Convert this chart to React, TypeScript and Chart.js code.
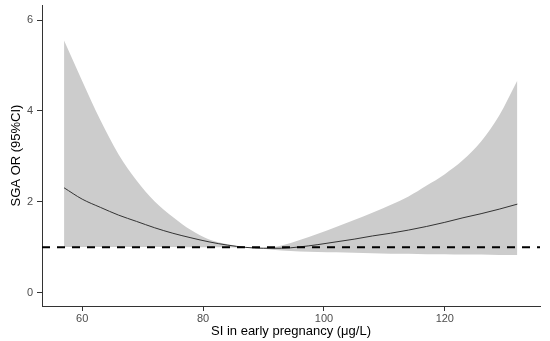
import React, { useEffect, useRef } from "react";
import { Chart, registerables } from "chart.js";

Chart.register(...registerables);

// Exposure values (SI in early pregnancy, µg/L)
const siValues = [57, 60, 63, 66, 69, 72, 75, 78, 81, 84, 87, 90, 93, 96, 99, 102, 105, 108, 111, 114, 117, 120, 123, 126, 129, 132];
// Odds ratio estimate
const orEstimate = [2.31, 2.06, 1.88, 1.71, 1.57, 1.43, 1.31, 1.21, 1.12, 1.05, 1.0, 0.98, 0.98, 1.01, 1.06, 1.12, 1.18, 1.25, 1.31, 1.38, 1.46, 1.55, 1.65, 1.74, 1.84, 1.95];
// 95% CI upper bound
const ciUpper = [5.55, 4.66, 3.8, 3.05, 2.47, 2.01, 1.67, 1.38, 1.17, 1.07, 1.01, 0.99, 1.04, 1.16, 1.3, 1.45, 1.6, 1.76, 1.93, 2.12, 2.36, 2.61, 2.92, 3.33, 3.9, 4.67];
// 95% CI lower bound
const ciLower = [1.01, 1.01, 1.01, 1.01, 1.01, 1.01, 1.01, 1.0, 1.0, 1.0, 0.99, 0.97, 0.93, 0.91, 0.9, 0.89, 0.88, 0.87, 0.86, 0.86, 0.85, 0.85, 0.84, 0.84, 0.83, 0.83];
// Reference line (OR = 1)
const referenceOR = 1;

const xTickValues = [60, 80, 100, 120];
const yTickValues = [0, 2, 4, 6];
const xRange = [53.35, 135.75];
const yRange = [-0.29, 6.33];

const xTitle = "SI in early pregnancy (μg/L)";
const yTitle = "SGA OR (95%CI)";

export default function App() {
  const canvasRef = useRef<HTMLCanvasElement | null>(null);

  useEffect(() => {
    if (!canvasRef.current) return;
    const pts = (ys: number[]) => siValues.map((x, i) => ({ x, y: ys[i] }));
    const font = "'Liberation Sans', Arial, sans-serif";
    const chart = new Chart(canvasRef.current, {
      type: "line",
      data: {
        datasets: [
          {
            label: "upper",
            data: pts(ciUpper),
            borderWidth: 0,
            borderColor: "rgba(0,0,0,0)",
            backgroundColor: "#CCCCCC",
            pointRadius: 0,
            fill: "+1",
            cubicInterpolationMode: "monotone",
            order: 3,
          },
          {
            label: "lower",
            data: pts(ciLower),
            borderWidth: 0,
            borderColor: "rgba(0,0,0,0)",
            backgroundColor: "#CCCCCC",
            pointRadius: 0,
            fill: false,
            cubicInterpolationMode: "monotone",
            order: 3,
          },
          {
            label: "OR",
            data: pts(orEstimate),
            borderWidth: 1,
            borderColor: "#333333",
            pointRadius: 0,
            fill: false,
            cubicInterpolationMode: "monotone",
            order: 2,
          },
          {
            label: "ref",
            data: [
              { x: xRange[0], y: referenceOR },
              { x: xRange[1], y: referenceOR },
            ],
            borderWidth: 2,
            borderColor: "#000000",
            borderDash: [8, 7],
            pointRadius: 0,
            fill: false,
            order: 1,
          },
        ],
      },
      options: {
        animation: false,
        responsive: true,
        maintainAspectRatio: false,
        layout: { padding: { top: 5, right: 10, left: 0, bottom: 0 } },
        plugins: { legend: { display: false }, tooltip: { enabled: false } },
        scales: {
          x: {
            type: "linear",
            min: xRange[0],
            max: xRange[1],
            afterBuildTicks: (s: any) => {
              s.ticks = xTickValues.map((v) => ({ value: v }));
            },
            afterFit: (s: any) => {
              s.height = 35;
              s.paddingLeft = 0;
              s.paddingRight = 0;
            },
            grid: { drawOnChartArea: false, drawTicks: true, tickLength: 5, color: "#333333", lineWidth: 1 },
            border: { display: true, color: "#333333", width: 1 },
            ticks: { color: "#4D4D4D", font: { family: font, size: 11 }, padding: 1, maxRotation: 0 },
            title: { display: true, text: xTitle, color: "#000000", font: { family: font, size: 13 }, padding: { top: 0, bottom: 1.5 } },
          },
          y: {
            type: "linear",
            min: yRange[0],
            max: yRange[1],
            afterBuildTicks: (s: any) => {
              s.ticks = yTickValues.map((v) => ({ value: v }));
            },
            afterFit: (s: any) => {
              s.width = 42;
              s.paddingTop = 0;
              s.paddingBottom = 0;
            },
            grid: { drawOnChartArea: false, drawTicks: true, tickLength: 5, color: "#333333", lineWidth: 1 },
            border: { display: true, color: "#333333", width: 1 },
            ticks: { color: "#4D4D4D", font: { family: font, size: 11 }, padding: 4 },
            title: { display: true, text: yTitle, color: "#000000", font: { family: font, size: 13 }, padding: { top: 9, bottom: 0 } },
          },
        },
      },
    });
    return () => chart.destroy();
  }, []);

  return (
    <div style={{ position: "fixed", left: 0, top: 0, width: 550, height: 341, background: "#fff" }}>
      <canvas ref={canvasRef} />
    </div>
  );
}
